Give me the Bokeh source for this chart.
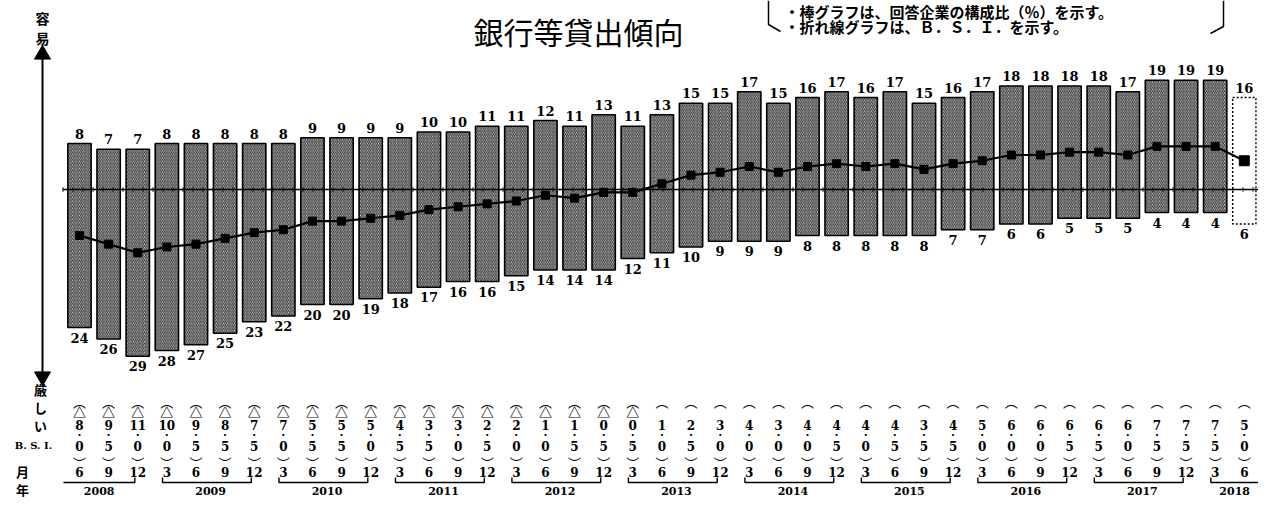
from bokeh.plotting import figure
from bokeh.models import Range1d, ColumnDataSource
from bokeh.embed import file_html
from bokeh.resources import INLINE
from bokeh.core.properties import value

# ---------------- data ----------------
months = [6, 9, 12] + [3, 6, 9, 12] * 9 + [3, 6]
years = [2008] * 3 + [y for y in range(2009, 2018) for _ in range(4)] + [2018] * 2
easy = [8, 7, 7, 8, 8, 8, 8, 8, 9, 9, 9, 9, 10, 10, 11, 11, 12, 11, 13, 11,
        13, 15, 15, 17, 15, 16, 17, 16, 17, 15, 16, 17, 18, 18, 18, 18, 17, 19, 19, 19, 16]
tight = [24, 26, 29, 28, 27, 25, 23, 22, 20, 20, 19, 18, 17, 16, 16, 15, 14, 14, 14, 12,
         11, 10, 9, 9, 9, 8, 8, 8, 8, 8, 7, 7, 6, 6, 5, 5, 5, 4, 4, 4, 6]
bsi = [-8.0, -9.5, -11.0, -10.0, -9.5, -8.5, -7.5, -7.0, -5.5, -5.5, -5.0, -4.5, -3.5, -3.0,
       -2.5, -2.0, -1.0, -1.5, -0.5, -0.5, 1.0, 2.5, 3.0, 4.0, 3.0, 4.0, 4.5, 4.0, 4.5, 3.5,
       4.5, 5.0, 6.0, 6.0, 6.5, 6.5, 6.0, 7.5, 7.5, 7.5, 5.0]
n_forecast = 1
title_text = "銀行等貸出傾向"
note_lines = ["・棒グラフは、回答企業の構成比（％）を示す。", "・折れ線グラフは、Ｂ．Ｓ．Ｉ．を示す。"]

# ---------------- geometry helpers (canvas pixel -> data) ----------------
W, H = 1258, 497
X0, DX = 79.0, 29.12      # px of first bar centre, spacing
Z0, PY = 189.0, 5.75      # px of zero line, px per %


def rx(px):
    return (px - X0) / DX


def ry(py):
    return (Z0 - py) / PY


n = len(easy)
idx = list(range(n))
n_act = n - n_forecast

p = figure(width=W, height=H, output_backend="svg", toolbar_location=None,
           x_range=Range1d(rx(0), rx(W)), y_range=Range1d(ry(H), ry(0)),
           min_border=0, outline_line_color=None)
p.axis.visible = False
p.grid.visible = False
p.background_fill_color = "white"

BW = 0.8
act = ColumnDataSource(dict(l=[i - BW / 2 for i in idx[:n_act]], r=[i + BW / 2 for i in idx[:n_act]],
                            t=easy[:n_act], b=[-v for v in tight[:n_act]]))
fc = ColumnDataSource(dict(l=[i - BW / 2 for i in idx[n_act:]], r=[i + BW / 2 for i in idx[n_act:]],
                           t=easy[n_act:], b=[-v for v in tight[n_act:]]))

p.quad(left="l", right="r", top="t", bottom="b", source=act, fill_color="#ffffff",
       hatch_pattern="\\", hatch_color="#333333", hatch_weight=1.2, hatch_scale=3.6,
       line_color="black", line_width=1.6)
p.quad(left="l", right="r", top="t", bottom="b", source=fc, fill_color=None,
       line_color="black", line_width=1.4, line_dash="2 2")

# zero line with ruler ticks
p.line([rx(62), rx(W)], [0, 0], line_color="black", line_width=1.6)
p.line([rx(62), rx(W)], [0, 0], line_color="black", line_width=5, line_dash="1 9", line_alpha=0.8)

# BSI line
p.line(idx, bsi, line_color="black", line_width=2.2)
p.scatter(idx[:n_act], bsi[:n_act], marker="square", size=8, color="black")
p.scatter(idx[n_act:], bsi[n_act:], marker="square", size=10, color="black")

# value labels
lab_font = value("DejaVu Serif")
p.text(idx, [v + 10 / PY for v in easy], text=[str(v) for v in easy], text_align="center",
       text_baseline="middle", text_font=lab_font, text_font_size="13px", text_font_style="bold")
p.text(idx, [-v - 10 / PY for v in tight], text=[str(v) for v in tight], text_align="center",
       text_baseline="middle", text_font=lab_font, text_font_size="13px", text_font_style="bold")

# left vertical arrow
p.line([rx(42), rx(42)], [ry(58), ry(372)], line_color="black", line_width=2)
p.scatter([rx(42)], [ry(54)], marker="triangle", size=16, color="black")
p.scatter([rx(42)], [ry(376)], marker="inverted_triangle", size=16, color="black")
jp = value("Noto Sans CJK JP")
p.text([rx(42)], [ry(27)], text=["容\n易"], text_align="center", text_baseline="middle",
       text_font=jp, text_font_size="14px", text_font_style="bold", text_line_height=1.0)
p.text([rx(40)], [ry(407)], text=["厳\nし\nい"], text_align="center", text_baseline="middle",
       text_font=jp, text_font_size="13px", text_font_style="bold", text_line_height=0.95)

# title and note
p.text([rx(578)], [ry(30)], text=[title_text], text_align="center", text_baseline="alphabetic",
       text_font=jp, text_font_size="30px")
p.text([rx(784)], [ry(11)], text=[note_lines[0]], text_align="left", text_baseline="middle",
       text_font=jp, text_font_size="15px", text_font_style="bold")
p.text([rx(784)], [ry(26)], text=[note_lines[1]], text_align="left", text_baseline="middle",
       text_font=jp, text_font_size="15px", text_font_style="bold")
p.line([rx(768), rx(768), rx(780)], [ry(0), ry(24), ry(31)], line_color="black", line_width=1.5)
p.line([rx(1223), rx(1223), rx(1210)], [ry(0), ry(26), ry(33)], line_color="black", line_width=1.5)

# ---------------- bottom table ----------------
serif = value("DejaVu Serif")
neg = [v < 0 for v in bsi]
int_part = [str(int(abs(v))) for v in bsi]
dec_part = [str(int(round(abs(v) * 10)) % 10) for v in bsi]

p.text(idx, [ry(401)] * n, text=["︵"] * n, text_align="center", text_baseline="middle",
       text_font=jp, text_font_size="13px")
neg_idx = [i for i in idx if neg[i]]
p.text(neg_idx, [ry(411)] * len(neg_idx), text=["△"] * len(neg_idx), text_align="center",
       text_baseline="middle", text_font=jp, text_font_size="13px", text_font_style="bold")
p.text(idx, [ry(424)] * n, text=int_part, text_align="center", text_baseline="middle",
       text_font=serif, text_font_size="12px", text_font_style="bold")
p.text(idx, [ry(434)] * n, text=["・"] * n, text_align="center", text_baseline="middle",
       text_font=jp, text_font_size="10px")
p.text(idx, [ry(445)] * n, text=dec_part, text_align="center", text_baseline="middle",
       text_font=serif, text_font_size="12px", text_font_style="bold")
p.text(idx, [ry(462)] * n, text=["︶"] * n, text_align="center", text_baseline="middle",
       text_font=jp, text_font_size="13px")
p.text(idx, [ry(471)] * n, text=[str(m) for m in months], text_align="center", text_baseline="middle",
       text_font=serif, text_font_size="12px", text_font_style="bold")

# year brackets
uniq_years = sorted(set(years))
for yv in uniq_years:
    cols = [i for i in idx if years[i] == yv]
    first, last = cols[0], cols[-1]
    left_x = first - 0.15 if months[first] == 3 else rx(63)
    right_x = last - 0.1 if months[last] == 12 else rx(W)
    xs, ys = [], []
    if months[first] == 3:
        xs.append(left_x); ys.append(ry(477))
    xs += [left_x, right_x]; ys += [ry(482), ry(482)]
    if months[last] == 12:
        xs.append(right_x); ys.append(ry(477))
    p.line(xs, ys, line_color="black", line_width=1.4)
    cx = (first + last) / 2 if len(cols) == 4 else (left_x + right_x) / 2
    p.text([cx], [ry(490)], text=[str(yv)], text_align="center", text_baseline="middle",
           text_font=serif, text_font_size="11px", text_font_style="bold")

# row labels
p.text([rx(33)], [ry(445)], text=["B. S. I."], text_align="center", text_baseline="middle",
       text_font=serif, text_font_size="10px", text_font_style="bold")
p.text([rx(22)], [ry(471)], text=["月"], text_align="center", text_baseline="middle",
       text_font=jp, text_font_size="13px", text_font_style="bold")
p.text([rx(22)], [ry(489)], text=["年"], text_align="center", text_baseline="middle",
       text_font=jp, text_font_size="13px", text_font_style="bold")

open("out.html", "w").write(file_html(p, INLINE))
